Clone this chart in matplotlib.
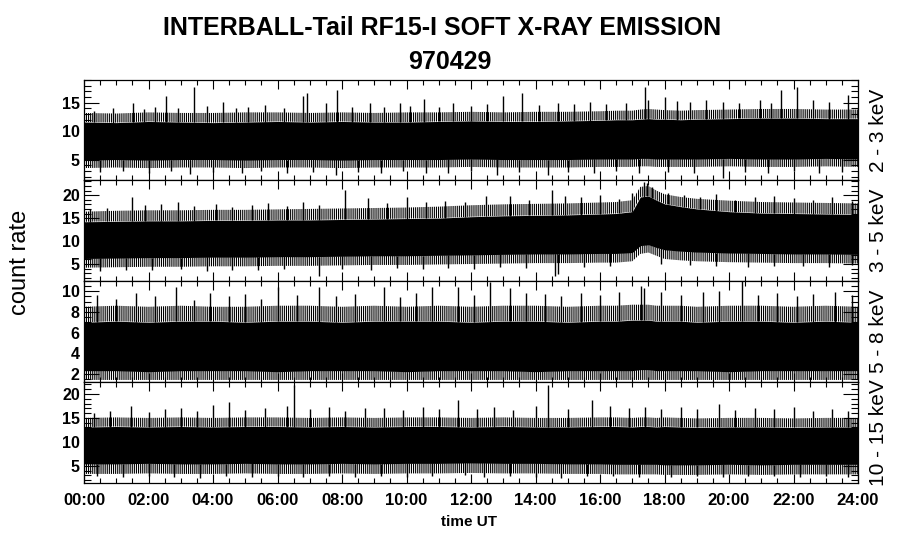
import numpy as np
import matplotlib
matplotlib.use('Agg')
import matplotlib.pyplot as plt
from matplotlib.ticker import MultipleLocator, FixedLocator

plt.rcParams['font.family'] = ['Liberation Sans', 'DejaVu Sans']
plt.rcParams['hatch.linewidth'] = 0.8

# ---------------- data ----------------
# knot times (hours UT) for the band envelopes
t_knots = [0, 1, 2, 3, 4, 5, 6, 7, 8, 9, 10, 11, 12, 13, 14, 15, 16,
           16.5, 17, 17.25, 17.5, 17.75, 18, 18.5, 19, 20, 21, 22, 23, 24]

# 2 - 3 keV
p1_core_hi = [11.6, 11.5, 11.7, 11.6, 11.5, 11.6, 11.7, 11.6, 11.7, 11.6, 11.6, 11.7, 11.8, 11.7, 11.7, 11.8, 11.9,
              12.0, 12.0, 12.1, 12.2, 12.1, 12.1, 12.0, 12.1, 12.2, 12.3, 12.3, 12.2, 12.2]
p1_core_lo = [4.9, 5.0, 4.9, 5.0, 5.0, 4.9, 5.0, 5.0, 4.9, 5.0, 5.0, 5.0, 5.1, 5.0, 5.0, 5.0, 5.1,
              5.1, 5.1, 5.2, 5.2, 5.1, 5.1, 5.1, 5.1, 5.2, 5.1, 5.1, 5.2, 5.1]
p1_fringe_hi = [13.2, 13.1, 13.3, 13.2, 13.2, 13.3, 13.3, 13.2, 13.3, 13.2, 13.3, 13.3, 13.4, 13.3, 13.4, 13.4, 13.5,
                13.6, 13.6, 13.8, 13.9, 13.8, 13.7, 13.6, 13.7, 13.8, 13.9, 13.9, 13.8, 13.8]
p1_fringe_lo = [3.5, 3.6, 3.5, 3.6, 3.6, 3.5, 3.6, 3.6, 3.5, 3.6, 3.6, 3.6, 3.7, 3.6, 3.6, 3.6, 3.7,
                3.7, 3.7, 3.8, 3.8, 3.7, 3.7, 3.7, 3.7, 3.8, 3.7, 3.7, 3.8, 3.7]
p1_spike_t = [0.3, 0.9, 1.53, 1.85, 2.2, 2.53, 2.9, 3.42, 3.8, 4.32, 4.7, 5.1, 5.6, 6.2, 6.8, 6.9, 7.5, 7.85,
              8.3, 8.87, 9.3, 9.8, 10.1, 10.55, 11.0, 11.45, 12.0, 12.5, 13.0, 13.57, 14.1, 14.7, 15.2, 15.7,
              16.2, 16.8, 17.4, 17.5, 18.0, 18.4, 18.8, 19.3, 19.8, 20.3, 20.96, 21.3, 21.6, 22.1, 22.6, 23.1, 23.7]
p1_spike_v = [13.5, 14.0, 14.9, 13.9, 14.2, 16.2, 14.0, 17.8, 14.4, 15.1, 14.0, 14.3, 14.6, 14.0, 16.2, 16.7, 15.0, 17.2,
              14.3, 14.9, 14.2, 15.0, 14.5, 15.6, 14.3, 15.0, 14.5, 14.8, 16.2, 16.7, 14.6, 14.9, 14.8, 15.2,
              14.7, 15.0, 17.8, 15.5, 16.0, 15.3, 15.1, 15.5, 15.2, 14.9, 15.4, 15.0, 17.2, 17.8, 15.4, 15.2, 16.4]
p1_dip_t = [0.5, 1.2, 2.0, 2.7, 3.3, 4.0, 4.9, 5.5, 6.3, 7.1, 7.8, 8.5, 9.2, 9.9, 10.6, 11.3, 12.0, 12.8, 13.5,
            14.4, 15.0, 15.8, 16.5, 17.2, 18.1, 18.9, 19.8, 20.5, 21.2, 22.0, 22.8, 23.5]
p1_dip_v = [2.8, 2.9, 2.6, 2.9, 2.4, 2.8, 2.7, 2.9, 2.6, 2.8, 2.3, 2.8, 2.6, 2.9, 2.7, 2.6, 2.9, 2.3, 2.8,
            2.2, 2.8, 2.7, 2.9, 2.6, 2.8, 2.7, 1.8, 2.8, 2.7, 2.9, 2.6, 2.8]

# 3 - 5 keV
p2_core_hi = [14.2, 14.3, 14.4, 14.4, 14.5, 14.5, 14.6, 14.6, 14.7, 14.8, 14.9, 15.0, 15.3, 15.5, 15.6, 15.7, 15.9,
              16.0, 16.4, 19.6, 19.8, 18.9, 18.1, 17.5, 17.0, 16.4, 16.1, 16.0, 15.9, 15.8]
p2_core_lo = [6.2, 6.3, 6.4, 6.4, 6.5, 6.5, 6.6, 6.6, 6.7, 6.8, 6.8, 6.9, 7.0, 7.1, 7.2, 7.2, 7.3,
              7.3, 7.5, 9.0, 9.2, 8.6, 8.1, 7.8, 7.6, 7.4, 7.3, 7.2, 7.2, 7.1]
p2_fringe_hi = [16.4, 16.6, 16.7, 16.7, 16.8, 16.8, 16.9, 17.0, 17.1, 17.2, 17.3, 17.5, 17.8, 18.0, 18.1, 18.2, 18.4,
                18.5, 18.9, 21.8, 22.0, 21.0, 20.2, 19.6, 19.2, 18.8, 18.5, 18.4, 18.3, 18.2]
p2_fringe_lo = [4.2, 4.3, 4.4, 4.4, 4.5, 4.5, 4.6, 4.6, 4.7, 4.8, 4.8, 4.9, 5.0, 5.1, 5.2, 5.2, 5.3,
                5.3, 5.6, 7.2, 7.5, 6.8, 6.1, 5.8, 5.6, 5.4, 5.3, 5.2, 5.2, 5.1]
p2_spike_t = [0.2, 0.7, 1.48, 1.9, 2.4, 2.9, 3.4, 4.1, 4.6, 5.2, 5.7, 6.3, 6.8, 7.3, 8.1, 8.8, 9.4, 10.0, 10.6,
              11.2, 11.8, 12.45, 13.2, 13.8, 14.5, 14.9, 15.4, 16.0, 16.6, 17.0, 17.35, 17.45, 17.6, 18.1, 18.6,
              19.1, 19.6, 20.2, 20.8, 21.4, 22.0, 22.6, 23.2, 23.8]
p2_spike_v = [17.0, 17.3, 19.7, 17.8, 18.0, 18.4, 17.6, 18.0, 17.5, 17.8, 18.2, 17.6, 18.5, 17.9, 21.1, 19.3, 18.3, 19.6, 18.5,
              18.8, 18.6, 19.9, 19.8, 19.0, 21.1, 19.8, 19.5, 20.0, 19.2, 20.5, 22.9, 22.6, 21.8, 20.5, 20.0,
              19.5, 20.3, 19.0, 19.6, 19.8, 19.3, 19.0, 19.5, 18.8]
p2_dip_t = [0.5, 1.3, 2.1, 3.0, 3.8, 4.6, 5.4, 6.2, 7.3, 8.0, 8.9, 9.7, 10.5, 11.3, 12.1, 12.9, 13.7, 14.6, 14.7,
            15.5, 16.3, 17.9, 18.8, 19.6, 20.6, 21.4, 22.3, 23.1, 23.8]
p2_dip_v = [3.5, 3.8, 3.6, 3.9, 3.4, 3.8, 3.7, 3.9, 2.3, 4.0, 3.8, 4.1, 3.9, 4.2, 4.0, 4.3, 4.1, 2.3, 2.8,
            4.3, 4.5, 5.0, 4.8, 4.6, 4.3, 4.5, 4.6, 4.4, 4.7]

# 5 - 8 keV
p3_core_hi = [7.0, 7.1, 7.0, 7.1, 7.1, 7.0, 7.1, 7.1, 7.0, 7.1, 7.1, 7.1, 7.0, 7.1, 7.1, 7.0, 7.1,
              7.1, 7.2, 7.2, 7.2, 7.1, 7.1, 7.1, 7.0, 7.1, 7.1, 7.0, 7.1, 7.0]
p3_core_lo = [2.3, 2.3, 2.2, 2.3, 2.3, 2.3, 2.2, 2.3, 2.3, 2.3, 2.2, 2.3, 2.3, 2.3, 2.2, 2.3, 2.3,
              2.3, 2.3, 2.4, 2.4, 2.3, 2.3, 2.3, 2.3, 2.2, 2.3, 2.3, 2.3, 2.3]
p3_fringe_hi = [8.5, 8.6, 8.5, 8.6, 8.5, 8.5, 8.6, 8.6, 8.5, 8.6, 8.5, 8.6, 8.5, 8.6, 8.6, 8.5, 8.6,
                8.6, 8.7, 8.7, 8.7, 8.6, 8.6, 8.6, 8.5, 8.6, 8.6, 8.5, 8.6, 8.5]
p3_fringe_lo = [1.4, 1.4, 1.4, 1.4, 1.4, 1.4, 1.4, 1.4, 1.4, 1.4, 1.4, 1.4, 1.4, 1.4, 1.4, 1.4, 1.4,
                1.4, 1.4, 1.4, 1.4, 1.4, 1.4, 1.4, 1.4, 1.4, 1.4, 1.4, 1.4, 1.4]
p3_spike_t = [0.4, 1.0, 1.6, 2.2, 2.85, 3.4, 3.9, 4.5, 5.0, 5.5, 6.0, 6.6, 7.3, 7.8, 8.4, 9.3, 9.8, 10.3, 10.8,
              11.6, 12.1, 12.6, 13.2, 13.7, 14.3, 14.8, 15.4, 16.0, 16.6, 17.27, 17.35, 17.9, 18.5, 19.2, 19.7,
              20.4, 20.9, 21.5, 22.1, 22.6, 23.3, 23.8]
p3_spike_v = [9.6, 9.3, 9.8, 9.5, 10.4, 9.2, 9.8, 9.5, 9.7, 9.3, 10.4, 9.6, 10.4, 9.5, 9.7, 10.4, 9.4, 9.8, 10.4,
              10.4, 9.6, 10.9, 10.3, 9.8, 9.7, 9.5, 9.8, 9.6, 9.9, 10.5, 10.3, 9.9, 9.6, 9.9, 10.0,
              11.0, 9.6, 9.8, 9.5, 9.7, 9.9, 9.6]
p3_dip_t = []
p3_dip_v = []

# 10 - 15 keV
p4_core_hi = [13.1, 13.2, 13.1, 13.2, 13.1, 13.2, 13.2, 13.1, 13.2, 13.1, 13.2, 13.2, 13.1, 13.2, 13.1, 13.1, 13.2,
              13.2, 13.1, 13.2, 13.2, 13.1, 13.2, 13.1, 13.0, 13.1, 13.1, 13.0, 13.1, 13.1]
p4_core_lo = [5.4, 5.4, 5.5, 5.4, 5.4, 5.5, 5.4, 5.4, 5.5, 5.4, 5.5, 5.5, 5.6, 5.5, 5.5, 5.4, 5.4,
              5.3, 5.3, 5.3, 5.3, 5.3, 5.2, 5.2, 5.2, 5.3, 5.2, 5.3, 5.3, 5.3]
p4_fringe_hi = [15.0, 15.1, 15.0, 15.1, 15.0, 15.1, 15.1, 15.0, 15.1, 15.0, 15.1, 15.1, 15.0, 15.1, 15.0, 15.0, 15.1,
                15.1, 15.0, 15.1, 15.1, 15.0, 15.1, 15.0, 14.9, 15.0, 15.0, 14.9, 15.0, 15.0]
p4_fringe_lo = [3.3, 3.3, 3.4, 3.3, 3.3, 3.4, 3.3, 3.3, 3.4, 3.3, 3.4, 3.4, 3.5, 3.4, 3.4, 3.3, 3.3,
                3.2, 3.2, 3.2, 3.2, 3.2, 3.1, 3.1, 3.1, 3.2, 3.1, 3.2, 3.2, 3.2]
p4_spike_t = [0.3, 0.8, 1.45, 2.0, 2.5, 3.0, 3.5, 4.0, 4.5, 5.0, 5.6, 6.3, 6.52, 7.0, 7.6, 8.1, 8.7, 9.3, 9.9,
              10.5, 11.0, 11.6, 12.2, 12.7, 13.3, 14.0, 14.4, 15.0, 15.74, 16.3, 16.9, 17.4, 17.9, 18.5, 19.0,
              19.7, 20.2, 20.8, 21.4, 22.0, 22.6, 23.2, 23.7]
p4_spike_v = [16.0, 16.5, 17.4, 16.3, 16.8, 17.0, 16.5, 17.6, 18.4, 16.6, 17.0, 17.4, 21.9, 16.8, 17.2, 16.5, 17.0, 17.1, 16.6,
              17.3, 16.8, 18.7, 16.9, 17.2, 16.7, 17.4, 21.9, 16.8, 18.7, 17.5, 17.0, 17.3, 16.8, 17.2, 16.9,
              18.0, 16.6, 17.0, 16.8, 17.2, 16.5, 16.9, 16.4]
p4_dip_t = [0.4, 1.2, 2.0, 2.8, 3.6, 4.4, 5.2, 6.0, 6.8, 7.6, 8.4, 9.2, 10.0, 10.8, 11.8, 12.4, 13.2, 14.0, 14.8,
            15.6, 16.4, 17.2, 18.2, 19.0, 19.8, 20.6, 21.4, 22.2, 23.0, 23.7]
p4_dip_v = [2.8, 2.6, 2.9, 2.7, 2.5, 2.9, 2.7, 2.8, 2.6, 2.9, 2.7, 2.8, 2.6, 2.9, 3.0, 2.6, 2.9, 2.7, 2.5,
            2.8, 2.9, 2.7, 2.6, 2.9, 2.7, 2.8, 2.9, 2.6, 2.8, 2.7]

channel_labels = ['2 - 3 keV', '3 - 5 keV', '5 - 8 keV', '10 - 15 keV']
y_limits = [(1.4, 19.0), (1.3, 23.3), (1.2, 11.0), (1.4, 22.5)]
y_ticks = [[5, 10, 15], [5, 10, 15, 20], [2, 4, 6, 8, 10], [5, 10, 15, 20]]
y_minor = [1.0, 1.0, 0.5, 1.0]
x_tick_hours = list(range(0, 25, 2))
x_tick_labels = [f'{h:02d}:00' for h in x_tick_hours]

panels = [
    (p1_core_lo, p1_core_hi, p1_fringe_lo, p1_fringe_hi, p1_spike_t, p1_spike_v, p1_dip_t, p1_dip_v),
    (p2_core_lo, p2_core_hi, p2_fringe_lo, p2_fringe_hi, p2_spike_t, p2_spike_v, p2_dip_t, p2_dip_v),
    (p3_core_lo, p3_core_hi, p3_fringe_lo, p3_fringe_hi, p3_spike_t, p3_spike_v, p3_dip_t, p3_dip_v),
    (p4_core_lo, p4_core_hi, p4_fringe_lo, p4_fringe_hi, p4_spike_t, p4_spike_v, p4_dip_t, p4_dip_v),
]

# ---------------- figure ----------------
W, H = 900, 548
fig = plt.figure(figsize=(W / 100, H / 100), dpi=100)
x0, x1 = 84, 858
edges = [80, 180, 281, 382, 483]
t = np.array(t_knots, dtype=float)

for i, (clo, chi, flo, fhi, st, sv, dt, dv) in enumerate(panels):
    top, bot = edges[i], edges[i + 1]
    ax = fig.add_axes([x0 / W, 1 - bot / H, (x1 - x0) / W, (bot - top) / H])
    clo, chi, flo, fhi = map(np.asarray, (clo, chi, flo, fhi))
    ax.fill_between(t, clo, chi, color='black', lw=0)
    ax.fill_between(t, chi, fhi, facecolor='none', edgecolor='black', hatch='||||||||', lw=0)
    ax.fill_between(t, flo, clo, facecolor='none', edgecolor='black', hatch='||||||||', lw=0)
    if len(st):
        ax.vlines(st, np.interp(st, t, chi), sv, color='black', lw=1.0)
    if len(dt):
        ax.vlines(dt, dv, np.interp(dt, t, clo), color='black', lw=1.0)

    ax.set_xlim(0, 24)
    ax.set_ylim(*y_limits[i])
    ax.yaxis.set_major_locator(FixedLocator(y_ticks[i]))
    ax.yaxis.set_minor_locator(MultipleLocator(y_minor[i]))
    ax.xaxis.set_major_locator(FixedLocator(x_tick_hours))
    ax.xaxis.set_minor_locator(MultipleLocator(0.5))
    ax.tick_params(axis='y', which='major', direction='in', length=11, width=0.8,
                   left=True, right=True, labelsize=11.5, pad=3)
    ax.tick_params(axis='y', which='minor', direction='in', length=5, width=0.8,
                   left=True, right=True)
    ax.tick_params(axis='x', which='major', direction='in', length=6.5, width=0.8,
                   top=True, bottom=True, labelsize=12, pad=7)
    ax.tick_params(axis='x', which='minor', direction='in', length=3.5, width=0.8,
                   top=True, bottom=True)
    for lab in ax.get_yticklabels():
        lab.set_fontweight('bold')
    for sp in ax.spines.values():
        sp.set_linewidth(0.9)
    if i < 3:
        ax.set_xticklabels([])
    else:
        ax.set_xticklabels(x_tick_labels, fontweight='bold')
    fig.text(878 / W, 1 - (top + bot) / 2 / H, channel_labels[i], rotation=90,
             ha='center', va='center', fontsize=15)

fig.text(442 / W, 1 - 28 / H, 'INTERBALL-Tail RF15-I SOFT X-RAY EMISSION',
         ha='center', va='center', fontsize=18, fontweight='bold')
fig.text(450 / W, 1 - 62 / H, '970429', ha='center', va='center', fontsize=18, fontweight='bold')
fig.text(20 / W, 1 - 262 / H, 'count rate', rotation=90, ha='center', va='center', fontsize=17)
fig.text(469 / W, 1 - 522 / H, 'time UT', ha='center', va='center', fontsize=11, fontweight='bold')

fig.savefig('out.png', dpi=100)
